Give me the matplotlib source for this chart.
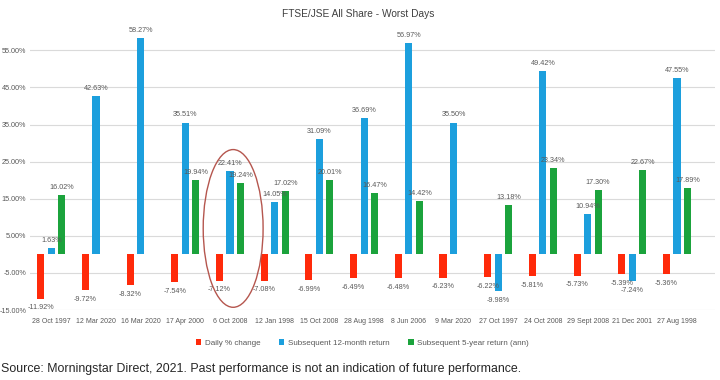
import numpy as np
import matplotlib
matplotlib.use("Agg")
import matplotlib.pyplot as plt
from matplotlib.patches import Ellipse

plt.rcParams['font.family'] = ['Liberation Sans', 'DejaVu Sans']

dates = ["28 Oct 1997", "12 Mar 2020", "16 Mar 2020", "17 Apr 2000", "6 Oct 2008",
         "12 Jan 1998", "15 Oct 2008", "28 Aug 1998", "8 Jun 2006", "9 Mar 2020",
         "27 Oct 1997", "24 Oct 2008", "29 Sept 2008", "21 Dec 2001", "27 Aug 1998"]
daily = [-11.92, -9.72, -8.32, -7.54, -7.12, -7.08, -6.99, -6.49, -6.48, -6.23,
         -6.22, -5.81, -5.73, -5.39, -5.36]
ret_12m = [1.63, 42.63, 58.27, 35.51, 22.41, 14.05, 31.09, 36.69, 56.97, 35.50,
           -9.98, 49.42, 10.94, -7.24, 47.55]
ret_5y = [16.02, None, None, 19.94, 19.24, 17.02, 20.01, 16.47, 14.42, None,
          13.18, 23.34, 17.30, 22.67, 17.89]
series_names = ["Daily % change", "Subsequent 12-month return", "Subsequent 5-year return (ann)"]
colors = ["#FF2A0A", "#1C9FDD", "#1BA33C"]
yticks = [-15, -5, 5, 15, 25, 35, 45, 55]

txt = "#595959"
fig = plt.figure(figsize=(7.2, 3.8), dpi=100)
ax = fig.add_axes([0.042, 0.184, 0.951, 0.752])

x = np.arange(len(dates))
w = 0.16
off = 0.235
for i, (vals, c, name) in enumerate(zip([daily, ret_12m, ret_5y], colors, series_names)):
    xs = [xx + (i - 1) * off for xx, v in zip(x, vals) if v is not None]
    vs = [v for v in vals if v is not None]
    ax.bar(xs, vs, width=w, color=c, label=name, zorder=3)
    for xx, v in zip(xs, vs):
        if v >= 0:
            ax.annotate(f"{v:.2f}%", (xx, v), xytext=(0, 3), textcoords="offset points",
                        ha="center", va="bottom", fontsize=5.2, color=txt, zorder=4)
        else:
            ax.annotate(f"{v:.2f}%", (xx, v), xytext=(0, -4), textcoords="offset points",
                        ha="center", va="top", fontsize=5.2, color=txt, zorder=4)

ax.set_xlim(-0.47, 14.85)
ax.set_ylim(-15, 62)
ax.set_yticks(yticks)
ax.set_yticklabels([f"{t:.2f}%" for t in yticks], fontsize=5.2, color=txt)
ax.set_xticks(x)
ax.set_xticklabels(dates, fontsize=5.0, color=txt)
ax.tick_params(axis="both", length=0)
ax.tick_params(axis="y", pad=3)
ax.tick_params(axis="x", pad=6)
ax.grid(axis="y", color="#DADADA", linewidth=0.8, zorder=0)
for s in ax.spines.values():
    s.set_visible(False)

ell = Ellipse((4.07, 7.0), 1.34, 42.5, fill=False, edgecolor="#B5564E",
              linewidth=1.0, clip_on=False, zorder=5)
ax.add_patch(ell)

fig.text(0.497, 0.963, "FTSE/JSE All Share - Worst Days", ha="center", va="center",
         fontsize=7.3, color="#404040")
fig.legend(loc="center", bbox_to_anchor=(0.503, 0.097), ncol=3, frameon=False,
           fontsize=5.8, handlelength=0.7, handleheight=0.7, handletextpad=0.4,
           columnspacing=2.3, labelcolor=txt)
fig.text(0.002, 0.03, "Source: Morningstar Direct, 2021. Past performance is not an indication of future performance.",
         ha="left", va="center", fontsize=8.9, color="#262626")

fig.savefig("out.png", dpi=100)
